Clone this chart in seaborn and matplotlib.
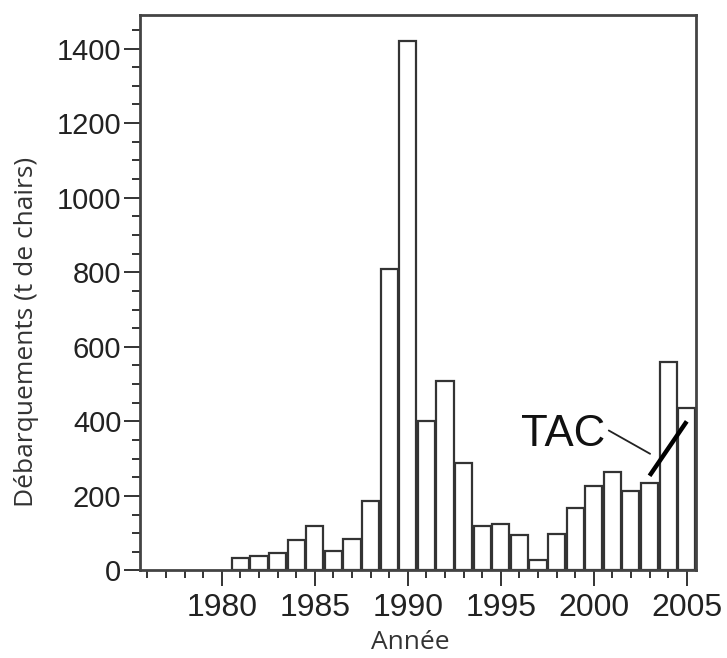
import matplotlib
matplotlib.use("Agg")
import matplotlib.pyplot as plt
from matplotlib.ticker import MultipleLocator
import seaborn as sns
import pandas as pd

# Data
years = list(range(1981, 2006))
landings = [33, 40, 46, 82, 118, 53, 84, 187, 808, 1420,
            402, 507, 289, 118, 124, 95, 28, 97, 167, 227,
            263, 212, 234, 560, 435]
tac_years = [2003, 2004, 2005]
tac_values = [254, 327, 400]

df = pd.DataFrame({"year": years, "landings": landings})

sns.set_style("ticks")
plt.rcParams["font.family"] = ["Liberation Sans", "DejaVu Sans"]

fig = plt.figure(figsize=(7.27, 6.58), dpi=100)
ax = fig.add_axes([0.1926, 0.133, 0.7648, 0.8442])

# Plot
sns.barplot(data=df, x="year", y="landings", native_scale=True, width=0.92,
            color="white", saturation=1, edgecolor="#333333", linewidth=1.6,
            errorbar=None, ax=ax)
ax.plot(tac_years, tac_values, color="black", lw=3.2, solid_capstyle="butt")
ax.annotate("TAC", xy=(2003.03, 313), xytext=(1996.1, 364),
            ha="left", va="center", fontsize=31.5, color="#111111",
            arrowprops=dict(arrowstyle="-", lw=1.3, color="#222222",
                            relpos=(1.0, 0.65), shrinkA=0, shrinkB=0))

ax.set_xlim(1975.6, 2005.5)
ax.set_ylim(0, 1490)
ax.xaxis.set_major_locator(MultipleLocator(5))
ax.xaxis.set_minor_locator(MultipleLocator(1))
ax.yaxis.set_major_locator(MultipleLocator(200))
ax.yaxis.set_minor_locator(MultipleLocator(50))
ax.tick_params(which="major", direction="out", length=11.5, width=1.4,
               color="#333333", labelcolor="#222222")
ax.tick_params(axis="x", which="major", pad=5, labelsize=23)
ax.tick_params(axis="y", which="major", pad=2, labelsize=21)
ax.tick_params(which="minor", direction="out", length=6, width=1.4,
               color="#333333")
for side in ["left", "bottom", "top", "right"]:
    ax.spines[side].set_visible(True)
    ax.spines[side].set_linewidth(2)
    ax.spines[side].set_color("#444444")

ax.set_xlabel("Année", fontsize=19, family=["Open Sans", "DejaVu Sans"],
              color="#333333")
ax.set_ylabel("Débarquements (t de chairs)", fontsize=19,
              family=["Open Sans", "DejaVu Sans"], color="#333333")
ax.xaxis.set_label_coords(0.487, -0.108)
ax.yaxis.set_label_coords(-0.182, 0.43)

fig.savefig("out.png", dpi=100)
